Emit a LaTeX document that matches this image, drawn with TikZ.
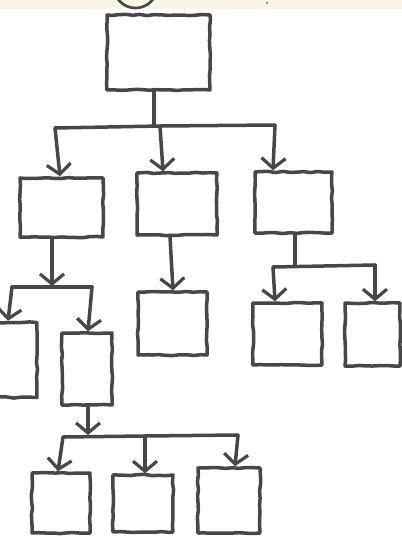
\documentclass[tikz,border=0pt]{standalone}
\usetikzlibrary{arrows.meta,decorations.pathmorphing}
\definecolor{ink}{HTML}{474747}
\definecolor{cream}{HTML}{FBF6E4}
\begin{document}
\begin{tikzpicture}[x=1pt,y=-1pt,
  box/.style={draw=ink, line width=3.5pt, inner sep=0pt, line join=round,
    decorate, decoration={random steps, segment length=7pt, amplitude=0.6pt}},
  link/.style={draw=ink, line width=3.5pt, line cap=round, line join=round},
  arr/.style={link, -{Straight Barb[length=10pt, width=24pt, line width=3.2pt]}}]
\pgfmathsetseed{7}
\useasboundingbox (0,0) rectangle (402,539);
\clip (0,0) rectangle (402,539);
\fill[white] (0,0) rectangle (402,539);
\fill[cream] (0,0) rectangle (402,9);
\draw[ink, line width=2.6pt] (135.5,-14) circle[radius=22pt];
\fill[ink!60] (267,3) circle[radius=1.3pt];

% boxes
\node[box, minimum width=103pt, minimum height=75pt] (b0) at (158.5,52.5) {};
\node[box, minimum width=83pt, minimum height=59pt] (b1) at (61.5,207.5) {};
\node[box, minimum width=80pt, minimum height=62pt] (b2) at (177,204) {};
\node[box, minimum width=77pt, minimum height=61pt] (b3) at (293.5,202.5) {};
\node[box, minimum width=58pt, minimum height=75pt] (b4) at (8,360) {};
\node[box, minimum width=50pt, minimum height=72pt] (b5) at (87,369) {};
\node[box, minimum width=69pt, minimum height=63pt] (b6) at (172.5,323.5) {};
\node[box, minimum width=69pt, minimum height=62pt] (b7) at (287.5,334) {};
\node[box, minimum width=55pt, minimum height=63pt] (b8) at (372.5,334.5) {};
\node[box, minimum width=58pt, minimum height=60pt] (b9) at (61,503) {};
\node[box, minimum width=60pt, minimum height=57pt] (b10) at (143,503.5) {};
\node[box, minimum width=62pt, minimum height=65pt] (b11) at (229,500.5) {};

% level 1
\coordinate (j0) at (154,126);
\coordinate (h0l) at (55,128);
\coordinate (h0m) at (160,126);
\coordinate (h0r) at (275,125);
\draw[link] ([xshift=-4.5pt]b0.south) -- (j0);
\draw[link] (h0l) -- (h0m) -- (h0r);
\draw[arr] (h0l) -- ([xshift=-1.5pt]b1.north);
\draw[arr] (h0m) -- ([xshift=-14pt]b2.north);
\draw[arr] (h0r) -- ([xshift=-20.5pt]b3.north);

% under b1
\coordinate (j1) at (52,286);
\coordinate (h1l) at (12,287);
\coordinate (h1r) at (92,287);
\draw[link] (h1l) -- (h1r);
\draw[arr] ([xshift=-9.5pt]b1.south) -- (j1);
\draw[arr] (h1l) -- ([xshift=0pt]b4.north);
\draw[arr] (h1r) -- ([xshift=1pt]b5.north);

% under b2
\draw[arr] ([xshift=-7pt]b2.south) -- ([xshift=0.5pt]b6.north);

% under b3
\coordinate (j3) at (295,266);
\coordinate (h3l) at (273,267);
\coordinate (h3r) at (375,265);
\draw[link] ([xshift=1.5pt]b3.south) -- (j3);
\draw[link] (h3l) -- (h3r);
\draw[arr] (h3l) -- ([xshift=-12.5pt]b7.north);
\draw[arr] (h3r) -- ([xshift=2.5pt]b8.north);

% under b5
\coordinate (j5) at (88,435);
\coordinate (h5l) at (63,437);
\coordinate (h5m) at (145,436);
\coordinate (h5r) at (238,435);
\draw[link] (h5l) -- (h5m) -- (h5r);
\draw[arr] ([xshift=1pt]b5.south) -- (j5);
\draw[arr] (h5l) -- ([xshift=-3pt]b9.north);
\draw[arr] (h5m) -- ([xshift=2pt]b10.north);
\draw[arr] (h5r) -- ([xshift=6pt]b11.north);
\end{tikzpicture}
\end{document}
